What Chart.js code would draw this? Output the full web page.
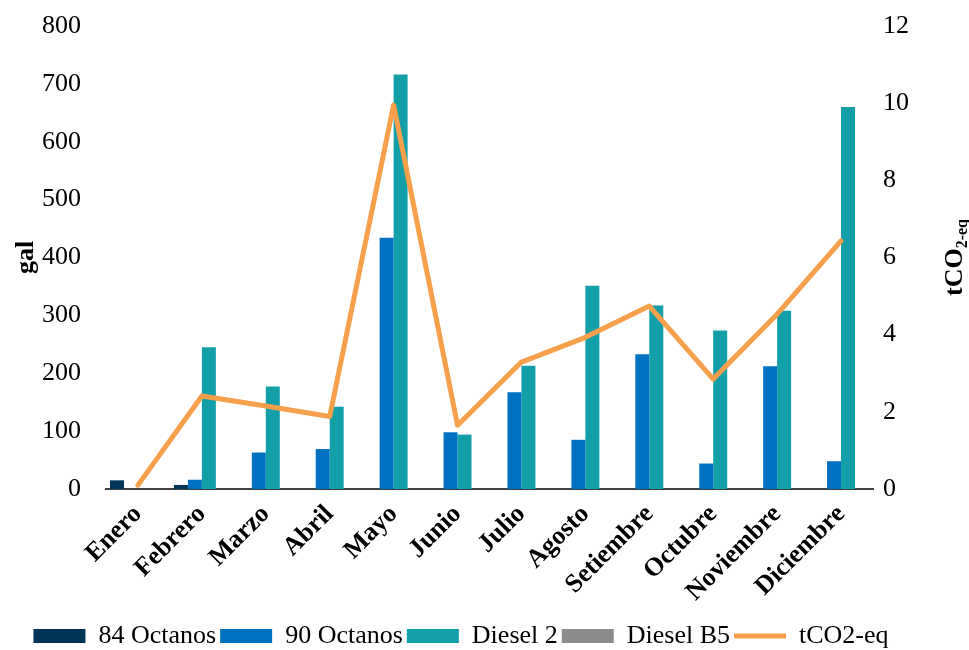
<!DOCTYPE html>
<html>
<head>
<meta charset="utf-8">
<script src="https://cdn.jsdelivr.net/npm/chart.js@4.4.0/dist/chart.umd.min.js"></script>
<style>
    html, body { margin: 0; padding: 0; background: #ffffff; }
</style>
</head>
<body>
<canvas id="grafico" width="969" height="650"></canvas>
<script>
var meses = ['Enero', 'Febrero', 'Marzo', 'Abril', 'Mayo', 'Junio', 'Julio', 'Agosto', 'Setiembre', 'Octubre', 'Noviembre', 'Diciembre'];

// galones por mes
var octanos84 = [15, 7, 0, 0, 0, 0, 0, 0, 0, 0, 0, 0];
var octanos90 = [0, 16, 63, 69, 434, 98, 167, 85, 233, 44, 212, 48];
var diesel2 = [0, 245, 177, 142, 716, 94, 213, 351, 317, 274, 308, 660];
var dieselB5 = [0, 0, 0, 0, 0, 0, 0, 0, 0, 0, 0, 0];

// emisiones tCO2-eq
var emisiones = [0.1, 2.41, 2.15, 1.88, 9.95, 1.65, 3.29, 3.93, 4.74, 2.85, 4.53, 6.43];

// ejes: min, max, paso
var ejeGal = [0, 800, 100];
var ejeCO2 = [0, 12, 2];

var fuente = '"Liberation Serif", "Times New Roman", serif';

// titulo del eje derecho con subindice
var tituloDerecho = {
    id: 'tituloDerecho',
    afterDraw: function (chart) {
        var ctx = chart.ctx;
        var area = chart.chartArea;
        var grande = 'bold 26px ' + fuente;
        var chico = 'bold 16px ' + fuente;
        ctx.save();
        ctx.font = grande;
        var w1 = ctx.measureText('tCO').width;
        ctx.font = chico;
        var w2 = ctx.measureText('2-eq').width;
        var total = w1 + w2;
        ctx.translate(962, (area.top + area.bottom) / 2);
        ctx.rotate(-Math.PI / 2);
        ctx.fillStyle = '#000000';
        ctx.textBaseline = 'alphabetic';
        ctx.textAlign = 'left';
        ctx.font = grande;
        ctx.fillText('tCO', -total / 2, 0);
        ctx.font = chico;
        ctx.fillText('2-eq', -total / 2 + w1, 5);
        ctx.restore();
    }
};

// sin relleno automatico en los ejes verticales
function sinRelleno(scale) {
    scale.paddingTop = 0;
    scale.paddingBottom = 0;
}

var ctx = document.getElementById('grafico').getContext('2d');

var grafico = new Chart(ctx, {
    data: {
        labels: meses,
        datasets: [{
            type: 'line',
            label: 'tCO2-eq',
            data: emisiones,
            yAxisID: 'y1',
            borderColor: '#F79F4A',
            backgroundColor: '#F79F4A',
            borderWidth: 5,
            pointRadius: 0,
            pointStyle: 'line',
            tension: 0,
            borderCapStyle: 'round',
            borderJoinStyle: 'round',
            order: 0
        }, {
            type: 'bar',
            label: '84 Octanos',
            data: octanos84,
            yAxisID: 'y',
            backgroundColor: '#003558',
            pointStyle: 'rect',
            order: 1
        }, {
            type: 'bar',
            label: '90 Octanos',
            data: octanos90,
            yAxisID: 'y',
            backgroundColor: '#0070C0',
            pointStyle: 'rect',
            order: 1
        }, {
            type: 'bar',
            label: 'Diesel 2',
            data: diesel2,
            yAxisID: 'y',
            backgroundColor: '#129FA7',
            pointStyle: 'rect',
            order: 1
        }, {
            type: 'bar',
            label: 'Diesel B5',
            data: dieselB5,
            yAxisID: 'y',
            backgroundColor: '#8C8C8C',
            pointStyle: 'rect',
            order: 1
        }]
    },
    options: {
        responsive: false,
        animation: false,
        devicePixelRatio: 1,
        categoryPercentage: 0.875,
        barPercentage: 1,
        layout: {
            autoPadding: false,
            padding: { left: 11, right: 58, top: 26, bottom: -9 }
        },
        plugins: {
            legend: {
                position: 'bottom',
                labels: {
                    usePointStyle: true,
                    pointStyleWidth: 52,
                    boxWidth: 52,
                    boxHeight: 14,
                    padding: 4,
                    color: '#000000',
                    font: { family: fuente, size: 26 },
                    sort: function (a, b) {
                        var orden = ['84 Octanos', '90 Octanos', 'Diesel 2', 'Diesel B5', 'tCO2-eq'];
                        return orden.indexOf(a.text) - orden.indexOf(b.text);
                    }
                }
            },
            tooltip: { enabled: false }
        },
        scales: {
            x: {
                grid: { display: false },
                border: { display: true, color: '#404040', width: 2 },
                ticks: {
                    color: '#000000',
                    maxRotation: 45,
                    minRotation: 45,
                    padding: 2,
                    font: { family: fuente, size: 26, weight: 'bold' }
                },
                afterFit: function (scale) {
                    scale.paddingLeft = 0;
                    scale.paddingRight = 0;
                    scale.height = 130;
                }
            },
            y: {
                position: 'left',
                min: ejeGal[0],
                max: ejeGal[1],
                grid: { display: false },
                border: { display: false },
                ticks: {
                    stepSize: ejeGal[2],
                    color: '#000000',
                    padding: 17,
                    font: { family: fuente, size: 26 }
                },
                title: {
                    display: true,
                    text: 'gal',
                    color: '#000000',
                    padding: 0,
                    font: { family: fuente, size: 26, weight: 'bold' }
                },
                afterFit: function (scale) {
                    sinRelleno(scale);
                    scale.width = 95;
                }
            },
            y1: {
                position: 'right',
                min: ejeCO2[0],
                max: ejeCO2[1],
                grid: { display: false },
                border: { display: false },
                ticks: {
                    stepSize: ejeCO2[2],
                    color: '#000000',
                    padding: 2,
                    font: { family: fuente, size: 26 }
                },
                afterFit: sinRelleno
            }
        }
    },
    plugins: [tituloDerecho]
});
</script>
</body>
</html>
